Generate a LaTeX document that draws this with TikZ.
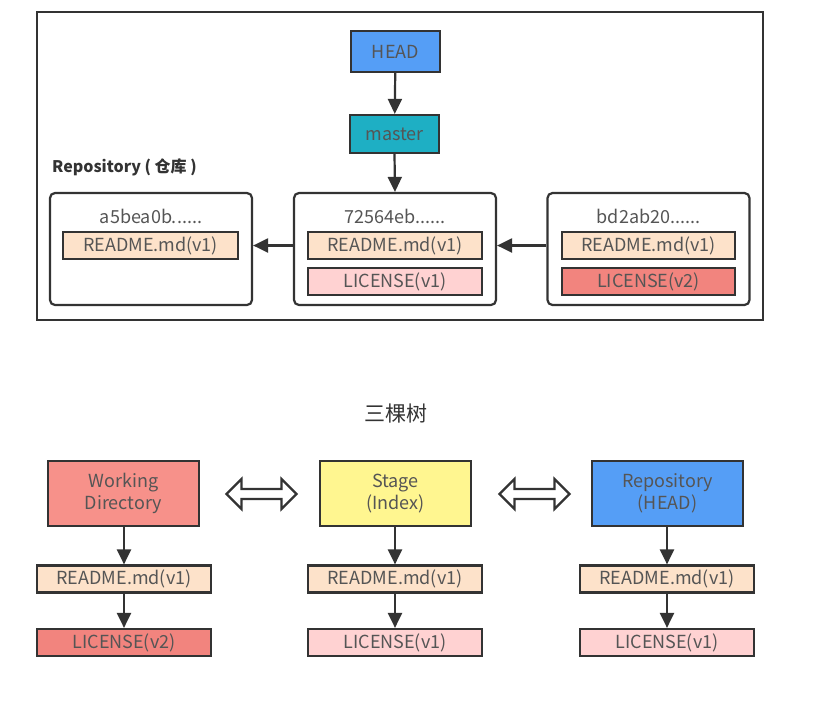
\documentclass[tikz,border=0pt]{standalone}
\usepackage{fontspec}
\setmainfont{Noto Sans CJK SC}
\usetikzlibrary{arrows.meta}
\definecolor{txt}{HTML}{555555}
\definecolor{edge}{HTML}{333333}
\definecolor{headblue}{HTML}{559EF6}
\definecolor{teal}{HTML}{1EAFC4}
\definecolor{readme}{HTML}{FDE2CA}
\definecolor{licv1}{HTML}{FFD2D2}
\definecolor{licv2}{HTML}{F2847E}
\definecolor{wdred}{HTML}{F7918A}
\definecolor{stageyel}{HTML}{FFF690}
\tikzset{
  box/.style={draw=edge, line width=2.2pt, text=txt, font=\fontsize{18}{22}\selectfont, inner sep=0pt, align=center},
  filebox/.style={box, minimum width=174pt, minimum height=27pt},
  commitbox/.style={draw=edge, line width=2.2pt, rounded corners=5pt, minimum width=202pt, minimum height=112pt, inner sep=0pt},
  treebox/.style={box, minimum width=151pt, minimum height=65pt},
  conn/.style={draw=edge, line width=2.2pt, -{Triangle[length=15pt,width=14pt]}},
  hollow/.style={draw=edge, line width=2.2pt, fill=white, line join=miter},
  idtext/.style={text=txt, font=\fontsize{18}{20}\selectfont, inner sep=0pt},
}
\begin{document}
\begin{tikzpicture}[x=1pt,y=-1pt]
\useasboundingbox (0,0) rectangle (829,702);
\fill[white] (0,0) rectangle (829,702);
% outer frame
\draw[edge, line width=2.2pt] (37,12) rectangle (763,320);
% top part
\node[box, fill=headblue, minimum width=89pt, minimum height=41pt] (head) at (395.5,51.5) {HEAD};
\node[box, fill=teal, minimum width=89pt, minimum height=38pt] (master) at (394.5,134) {master};
\node[anchor=west, font=\fontsize{16}{18}\selectfont\bfseries, text=edge, inner sep=0pt] (repolbl) at (52,167) {Repository ( 仓库 )};
\node[commitbox] (c1) at (151,249) {};
\node[commitbox] (c2) at (395,249) {};
\node[commitbox] (c3) at (648.5,249) {};
\node[idtext] (c1id) at (151,216) {a5bea0b......};
\node[idtext] (c2id) at (395,216) {72564eb......};
\node[idtext] (c3id) at (648.5,216) {bd2ab20......};
\node[filebox, fill=readme, minimum width=175pt] (c1r) at (150.5,245.5) {README.md(v1)};
\node[filebox, fill=readme] (c2r) at (395,245.5) {README.md(v1)};
\node[filebox, fill=licv1] (c2l) at (395,281.5) {LICENSE(v1)};
\node[filebox, fill=readme, minimum width=173pt] (c3r) at (648.5,245.5) {README.md(v1)};
\node[filebox, fill=licv2, minimum width=173pt] (c3l) at (648.5,281.5) {LICENSE(v2)};
\draw[conn] (head) -- (master);
\draw[conn] (master.south) -- (c2.north);
\draw[conn] (c2.west |- c2r) -- (c1.east |- c2r);
\draw[conn] (c3.west |- c3r) -- (c2.east |- c3r);
% bottom part
\node[font=\fontsize{21}{24}\selectfont, text=edge, inner sep=0pt] (title) at (396,413) {三棵树};
\node[treebox, fill=wdred] (wd) at (123.5,493.5) {Working\\Directory};
\node[treebox, fill=stageyel] (st) at (395.5,493.5) {Stage\\(Index)};
\node[treebox, fill=headblue] (rp) at (667.5,493.5) {Repository\\(HEAD)};
\node[filebox, fill=readme] (wdr) at (124,579) {README.md(v1)};
\node[filebox, fill=licv2] (wdl) at (124,642.5) {LICENSE(v2)};
\node[filebox, fill=readme] (str) at (395,579) {README.md(v1)};
\node[filebox, fill=licv1] (stl) at (395,642.5) {LICENSE(v1)};
\node[filebox, fill=readme] (rpr) at (667,579) {README.md(v1)};
\node[filebox, fill=licv1] (rpl) at (667,642.5) {LICENSE(v1)};
\draw[conn] (wd.south -| wdr) -- (wdr);
\draw[conn] (wdr) -- (wdl);
\draw[conn] (st.south -| str) -- (str);
\draw[conn] (str) -- (stl);
\draw[conn] (rp.south -| rpr) -- (rpr);
\draw[conn] (rpr) -- (rpl);
% hollow double arrows
\foreach \cx in {261.5,534.5}{
  \draw[hollow] (\cx-35,494) -- (\cx-20,479) -- (\cx-20,489) -- (\cx+20,489) -- (\cx+20,479) -- (\cx+35,494) -- (\cx+20,509) -- (\cx+20,499) -- (\cx-20,499) -- (\cx-20,509) -- cycle;
}
\end{tikzpicture}
\end{document}
